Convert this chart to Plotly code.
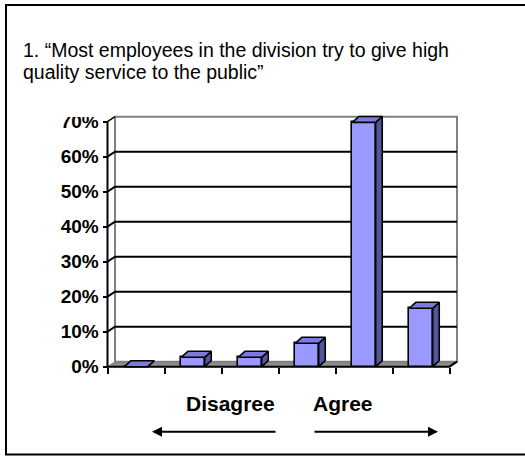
import plotly.graph_objects as go

# ---------------- data ----------------
categories = ["1", "2", "3", "4", "5", "6"]
values = [0.0, 0.027, 0.027, 0.067, 0.698, 0.167]
tick_vals = [0, 0.1, 0.2, 0.3, 0.4, 0.5, 0.6, 0.7]
tick_text = ["0%", "10%", "20%", "30%", "40%", "50%", "60%", "70%"]
title_lines = ["1. \u201cMost employees in the division try to give high",
               "quality service to the public\u201d"]
scale_labels = ["Disagree", "Agree"]

# ---------------- layout constants ----------------
W_FIG, H_FIG = 525, 456
L, T, PW, PH = 90, 111, 382, 266
XR = [-0.30702, 6.39474]
YR = [-0.02943, 0.73057]
WALL_DX, WALL_DY = 0.1316, 0.01429
BAR_DX, BAR_DY = 0.115, 0.017
BAR_W = 0.41
FONT = "Liberation Sans, Arial, sans-serif"
N = len(categories)
YMAX = tick_vals[-1]


def px_x(p):
    return (p - L) / PW


def px_y(p):
    return (T + PH - p) / PH


xs = [i + 0.5 for i in range(N)]

fig = go.Figure()

# front faces
fig.add_trace(go.Bar(
    x=xs, y=values, width=BAR_W,
    marker=dict(color="#9999FF", line=dict(color="black", width=1.6)),
    hoverinfo="skip", showlegend=False,
))

# top and side faces
tx, ty, sx, sy = [], [], [], []
for x, v in zip(xs, values):
    x0, x1 = x - BAR_W / 2, x + BAR_W / 2
    tx += [x0, x1, x1 + BAR_DX, x0 + BAR_DX, x0, None]
    ty += [v, v, v + BAR_DY, v + BAR_DY, v, None]
    sx += [x1, x1 + BAR_DX, x1 + BAR_DX, x1, x1, None]
    sy += [0, BAR_DY, v + BAR_DY, v, 0, None]

fig.add_trace(go.Scatter(x=sx, y=sy, mode="lines", fill="toself",
                         fillcolor="#55559E", line=dict(color="black", width=1.6),
                         hoverinfo="skip", showlegend=False))
fig.add_trace(go.Scatter(x=tx, y=ty, mode="lines", fill="toself",
                         fillcolor="#7B7BDB", line=dict(color="black", width=1.6),
                         hoverinfo="skip", showlegend=False))

shapes = []
# floor
shapes.append(dict(type="path", xref="x", yref="y", layer="below",
                   path=f"M 0,0 L {N},0 L {N + WALL_DX},{WALL_DY} L {WALL_DX},{WALL_DY} Z",
                   fillcolor="#8C8C8C", line=dict(color="#808080", width=1)))
# back wall
shapes.append(dict(type="rect", xref="x", yref="y", layer="below",
                   x0=WALL_DX, y0=WALL_DY, x1=N + WALL_DX, y1=YMAX + WALL_DY,
                   fillcolor="white", line=dict(color="#808080", width=2)))
# gridlines (side wall + back wall)
for v in tick_vals[1:-1]:
    shapes.append(dict(type="path", xref="x", yref="y", layer="below",
                       path=f"M 0,{v} L {WALL_DX},{v + WALL_DY} L {N + WALL_DX},{v + WALL_DY}",
                       line=dict(color="black", width=2)))
shapes.append(dict(type="path", xref="x", yref="y", layer="below",
                   path=f"M 0,{YMAX} L {WALL_DX},{YMAX + WALL_DY}",
                   line=dict(color="black", width=1.5)))
# front axes
shapes.append(dict(type="path", xref="x", yref="y", layer="below",
                   path=f"M 0,{YMAX} L 0,0 L {N},0 L {N + WALL_DX},{WALL_DY}",
                   line=dict(color="black", width=2)))
# outer frame
shapes.append(dict(type="rect", xref="paper", yref="paper", layer="above",
                   x0=px_x(6), x1=px_x(545), y0=px_y(454.5), y1=px_y(5),
                   line=dict(color="black", width=2)))
# clip top of the highest tick label like the original
shapes.append(dict(type="rect", xref="paper", yref="paper", layer="above",
                   x0=px_x(40), x1=px_x(104), y0=px_y(117), y1=px_y(98),
                   fillcolor="white", line=dict(width=0)))

annotations = []
annotations.append(dict(text=title_lines[0], xref="paper", yref="paper",
                        x=px_x(22), y=px_y(50), xanchor="left", yanchor="middle",
                        showarrow=False, borderpad=0,
                        font=dict(family=FONT, size=19.5, color="black")))
annotations.append(dict(text=title_lines[1], xref="paper", yref="paper",
                        x=px_x(22), y=px_y(72), xanchor="left", yanchor="middle",
                        showarrow=False, borderpad=0,
                        font=dict(family=FONT, size=19.5, color="black")))
annotations.append(dict(text=scale_labels[0], xref="paper", yref="paper",
                        x=px_x(230.5), y=px_y(403.5), xanchor="center", yanchor="middle",
                        showarrow=False, font=dict(family=FONT, size=21, color="black", weight="bold")))
annotations.append(dict(text=scale_labels[1], xref="paper", yref="paper",
                        x=px_x(342.5), y=px_y(403.5), xanchor="center", yanchor="middle",
                        showarrow=False, font=dict(family=FONT, size=21, color="black", weight="bold")))
# arrows
annotations.append(dict(text="", xref="paper", yref="paper", x=px_x(152), y=px_y(431.7),
                        ax=125, ay=0, showarrow=True, arrowhead=2, arrowsize=1,
                        arrowwidth=2, arrowcolor="black"))
annotations.append(dict(text="", xref="paper", yref="paper", x=px_x(438), y=px_y(431.7),
                        ax=-125, ay=0, showarrow=True, arrowhead=2, arrowsize=1,
                        arrowwidth=2, arrowcolor="black"))

fig.update_layout(
    width=W_FIG, height=H_FIG,
    margin=dict(l=L, r=W_FIG - L - PW, t=T, b=H_FIG - T - PH, pad=0),
    paper_bgcolor="white", plot_bgcolor="white",
    showlegend=False, bargap=0,
    shapes=shapes, annotations=annotations,
    xaxis=dict(range=XR, anchor="free", position=(0 - YR[0]) / (YR[1] - YR[0]),
               tickvals=list(range(N + 1)), showticklabels=False,
               ticks="outside", ticklen=6, tickwidth=2, tickcolor="black",
               showgrid=False, zeroline=False, showline=False, fixedrange=True),
    yaxis=dict(range=YR, anchor="free", position=(0 - XR[0]) / (XR[1] - XR[0]),
               tickvals=tick_vals, ticktext=tick_text,
               ticks="outside", ticklen=5, tickwidth=2, tickcolor="black",
               tickfont=dict(family=FONT, size=19, color="black", weight="bold"),
               showgrid=False, zeroline=False, showline=False, fixedrange=True),
)

fig.write_html("out.html", config={"displayModeBar": False},
               post_script="document.body.style.margin='0';document.body.style.overflow='hidden';")
